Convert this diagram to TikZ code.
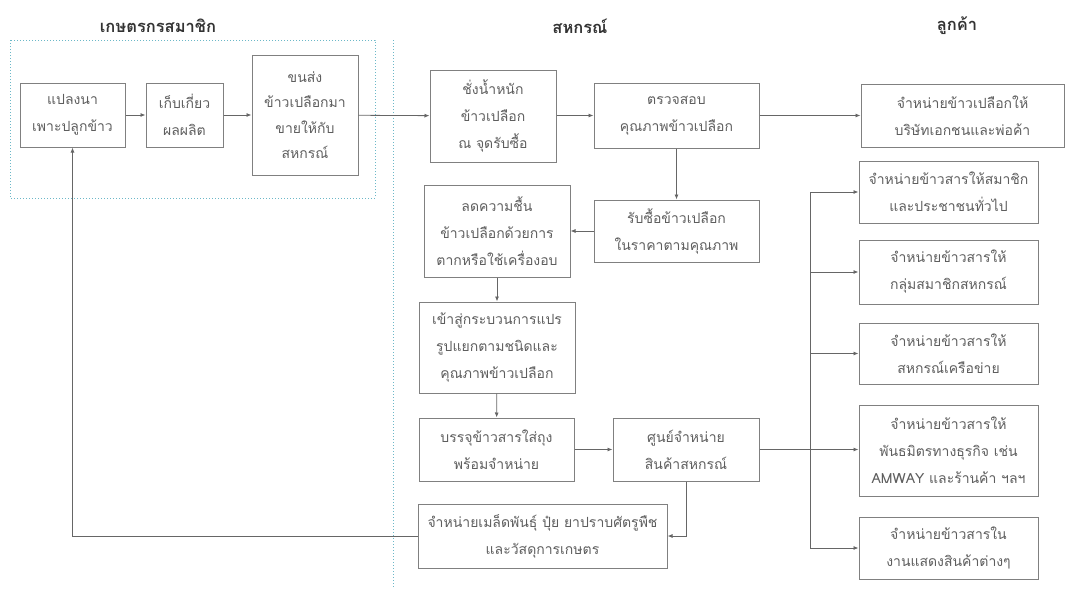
\documentclass[tikz,border=0pt]{standalone}
\usepackage{fontspec}
\newfontfamily\thai[Script=Thai]{Loma}
\usetikzlibrary{arrows.meta}
\definecolor{boxline}{HTML}{808080}
\definecolor{txt}{HTML}{5E5E5E}
\definecolor{ttl}{HTML}{333333}
\definecolor{dotc}{HTML}{6CB8C8}
\definecolor{conn}{HTML}{666666}
\tikzset{
  bx/.style={draw=boxline, line width=1pt, align=center, inner sep=0pt, text=txt,
    font=\thai\fontsize{14}{27}\selectfont},
  ttlnode/.style={text=ttl, font=\thai\bfseries\fontsize{16.5}{18}\selectfont, inner sep=0pt},
  arr/.style={draw=conn, line width=0.8pt, -{Latex[length=5pt,width=4pt]}},
  ln/.style={draw=conn, line width=0.8pt},
  dotl/.style={draw=dotc, line width=1pt, dash pattern=on 1pt off 2pt}
}
\begin{document}
\begin{tikzpicture}[x=1pt,y=-1pt]
\useasboundingbox (0,0) rectangle (1069,589);
% titles
\node[ttlnode] (t1) at (158,26) {เกษตรกรสมาชิก};
\node[ttlnode] (t2) at (580,26) {สหกรณ์};
\node[ttlnode] (t3) at (957,26) {ลูกค้า};
% dotted zones
\draw[dotl] (10,40) rectangle (375,198);
\draw[dotl] (393,40) -- (393,589);
% boxes
\node[bx, minimum width=105, minimum height=64] (b1) at (72.5,115) {แปลงนา\\เพาะปลูกข้าว};
\node[bx, minimum width=77, minimum height=64] (b2) at (184.5,115) {เก็บเกี่ยว\\ผลผลิต};
\node[bx, minimum width=106, minimum height=120, font=\thai\fontsize{14}{25.5}\selectfont] (b3) at (305,115) {ขนส่ง\\ข้าวเปลือกมา\\ขายให้กับ\\สหกรณ์};
\node[bx, minimum width=126, minimum height=92] (b4) at (493,116) {ชั่งน้ำหนัก\\ข้าวเปลือก\\ณ จุดรับซื้อ};
\node[bx, minimum width=165, minimum height=65] (b5) at (676.5,115.5) {ตรวจสอบ\\คุณภาพข้าวเปลือก};
\node[bx, minimum width=203, minimum height=63] (b6) at (962.5,115.5) {จำหน่ายข้าวเปลือกให้\\บริษัทเอกชนและพ่อค้า};
\node[bx, minimum width=179, minimum height=62] (b7) at (948.5,192) {จำหน่ายข้าวสารให้สมาชิก\\และประชาชนทั่วไป};
\node[bx, minimum width=179, minimum height=64] (b8) at (948.5,272) {จำหน่ายข้าวสารให้\\กลุ่มสมาชิกสหกรณ์};
\node[bx, minimum width=179, minimum height=61] (b9) at (948.5,353.5) {จำหน่ายข้าวสารให้\\สหกรณ์เครือข่าย};
\node[bx, minimum width=179, minimum height=91] (b10) at (948.5,450.5) {จำหน่ายข้าวสารให้\\พันธมิตรทางธุรกิจ เช่น\\AMWAY และร้านค้า ฯลฯ};
\node[bx, minimum width=179, minimum height=62] (b11) at (948.5,548) {จำหน่ายข้าวสารใน\\งานแสดงสินค้าต่างๆ};
\node[bx, minimum width=165, minimum height=62] (b12) at (676.5,231) {รับซื้อข้าวเปลือก\\ในราคาตามคุณภาพ};
\node[bx, minimum width=146, minimum height=92] (b13) at (497,231) {ลดความชื้น\\ข้าวเปลือกด้วยการ\\ตากหรือใช้เครื่องอบ};
\node[bx, minimum width=156, minimum height=91] (b14) at (497,347.5) {เข้าสู่กระบวนการแปร\\รูปแยกตามชนิดและ\\คุณภาพข้าวเปลือก};
\node[bx, minimum width=155, minimum height=63] (b15) at (496.5,449.5) {บรรจุข้าวสารใส่ถุง\\พร้อมจำหน่าย};
\node[bx, minimum width=146, minimum height=63] (b16) at (686,449.5) {ศูนย์จำหน่าย\\สินค้าสหกรณ์};
\node[bx, minimum width=249, minimum height=64] (b17) at (542.5,536) {จำหน่ายเมล็ดพันธุ์ ปุ๋ย ยาปราบศัตรูพืช\\และวัสดุการเกษตร};
% connectors
\draw[arr] (b1) -- (b2);
\draw[arr] (b2) -- (b3);
\draw[arr] (b3) -- (b4);
\draw[arr] (b4.east |- b5) -- (b5);
\draw[arr] (b5) -- (b6);
\draw[arr] (b5) -- (b12);
\draw[arr] (b12) -- (b13);
\draw[arr] (b13) -- (b14);
\draw[arr] (b14) -- (b15);
\draw[arr] (b15) -- (b16);
\coordinate (j1) at (810,192);
\coordinate (j2) at (810,548);
\draw[ln] (j1) -- (j2);
\draw[arr] (b16.east) -- (b16.east -| b10.west);
\draw[arr] (j1) -- (b7.west);
\draw[arr] (j1 |- b8) -- (b8.west);
\draw[arr] (j1 |- b9) -- (b9.west);
\draw[arr] (j2) -- (b11.west);
\coordinate (c1) at (686,536);
\draw[arr] (b16.south) -- (c1) -- (b17.east);
\coordinate (c2) at (72.5,536);
\draw[arr] (b17.west) -- (c2) -- (b1.south);
\end{tikzpicture}
\end{document}
